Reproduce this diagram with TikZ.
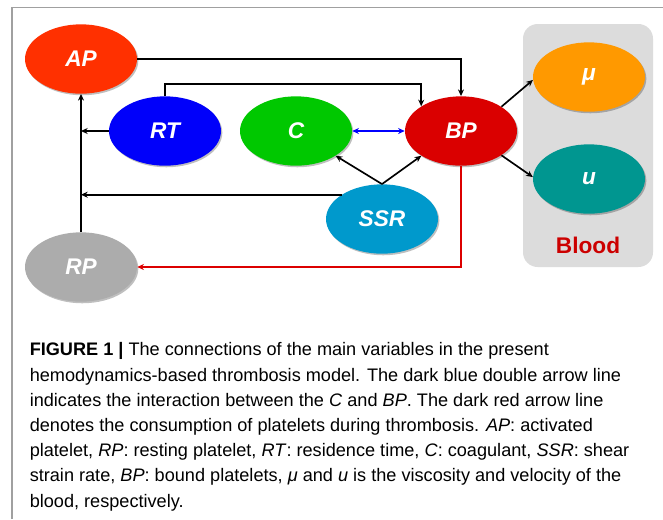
\documentclass[tikz,border=0pt]{standalone}
\usepackage{fontspec}
\setmainfont{Liberation Sans}
\usetikzlibrary{shapes.geometric,arrows.meta,shadows}
\definecolor{cAP}{RGB}{255,48,0}
\definecolor{cRT}{RGB}{0,0,250}
\definecolor{cC}{RGB}{0,200,0}
\definecolor{cBP}{RGB}{218,0,0}
\definecolor{cSSR}{RGB}{0,153,204}
\definecolor{cRP}{RGB}{172,172,172}
\definecolor{cMU}{RGB}{255,153,0}
\definecolor{cU}{RGB}{0,150,144}
\definecolor{cBox}{RGB}{220,220,220}
\definecolor{cBlood}{RGB}{204,0,0}
\definecolor{cFrame}{RGB}{160,160,160}
\definecolor{cRed}{RGB}{220,0,0}
\begin{document}
\begin{tikzpicture}[x=0.75pt,y=-0.75pt,
  var/.style={ellipse, minimum width=84pt, minimum height=52pt, inner sep=0pt,
    text=white, font=\fontsize{17}{20}\selectfont\bfseries\itshape,
    drop shadow={shadow xshift=1pt, shadow yshift=-1.2pt, opacity=0.25, fill=black}},
  arr/.style={line width=1.25pt, -{Stealth[length=5pt,width=4.5pt]}},
  blue arr/.style={line width=1.2pt, color=blue, {Stealth[length=5pt,width=4.5pt]}-{Stealth[length=5pt,width=4.5pt]}},
  red arr/.style={line width=1.1pt, color=cRed, -{Stealth[length=5pt,width=4.5pt]}}]
\useasboundingbox (0,0) rectangle (663,519);
\fill[white] (0,0) rectangle (663,519);
% frame
\draw[cFrame, line width=1pt] (12,519) -- (12,7.5) -- (663,7.5);
% blood box
\fill[cBox, rounded corners=11pt] (523,24) rectangle (653,267);
\node[font=\fontsize{17}{20}\selectfont\bfseries, text=cBlood] (blood) at (588,245) {Blood};
% nodes
\node[var, fill=cAP] (AP) at (81,59) {AP};
\node[var, fill=cRT] (RT) at (165,131) {RT};
\node[var, fill=cC] (C) at (296,131) {C};
\node[var, fill=cBP] (BP) at (461,131) {BP};
\node[var, fill=cSSR] (SSR) at (382,219) {SSR};
\node[var, fill=cRP] (RP) at (81,267) {RP};
\node[var, fill=cMU] (MU) at (589,77) {μ};
\node[var, fill=cU] (U) at (589,179) {u};
% connectors
\draw[arr] (AP.east) -| (BP.north);
\draw[arr] (RT.north) -- (RT.north |- 0,84) -| (BP.north west);
\draw[arr] (RT.west) -- (RT.west -| RP.north);
\draw[arr] (SSR.149) -- (SSR.149 -| RP.north);
\draw[arr] (RP.north) -- (AP.south);
\draw[arr] (SSR.north) -- (C.-32);
\draw[arr] (SSR.north) -- (BP.-148);
\draw[blue arr] (C.east) -- (BP.west);
\draw[arr] (BP.31) -- (MU.183);
\draw[arr] (BP.-31) -- (U.178);
\draw[red arr] (BP.south) |- (RP.east);
% caption
\node[anchor=base west, align=left, inner sep=0pt,
  font=\fontsize{13.6}{18.9}\selectfont] (cap) at (29.5,507)
{\textbf{FIGURE 1 |} The connections of the main variables in the present\\
hemodynamics-based thrombosis model. The dark blue double arrow line\\
indicates the interaction between the \textit{C} and \textit{BP}. The dark red arrow line\\
denotes the consumption of platelets during thrombosis. \textit{AP}: activated\\
platelet, \textit{RP}: resting platelet, \textit{RT}: residence time, \textit{C}: coagulant, \textit{SSR}: shear\\
strain rate, \textit{BP}: bound platelets, \textit{μ} and \textit{u} is the viscosity and velocity of the\\
blood, respectively.};
\end{tikzpicture}
\end{document}
